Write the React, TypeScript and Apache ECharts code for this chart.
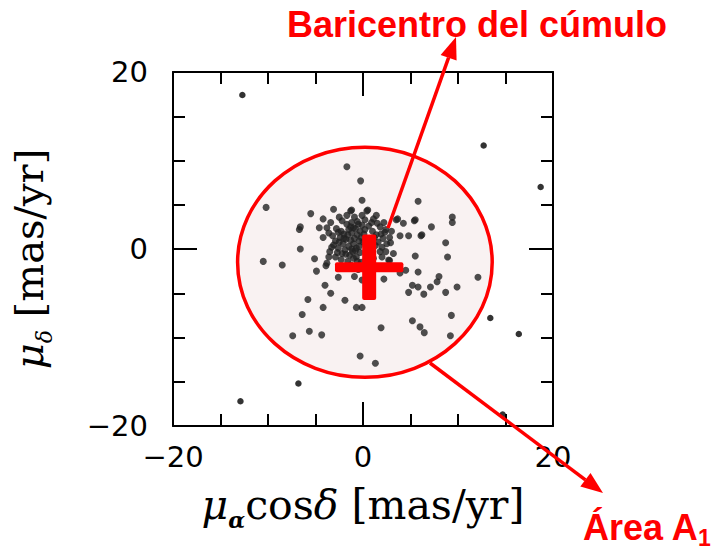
import React, { useEffect, useRef } from 'react';
import * as echarts from 'echarts';

// ---- Data ----
const axisMin = -20;
const axisMax = 20;
const axisInterval = 20;

// Cluster barycentre and the half-extent of its cross marker (mas/yr)
const centroid = [0.65, -2.05];
const centroidHalf = [3.6, 3.7];

// Area A1: centre and semi-axes (mas/yr)
const areaCenter = [0.2, -1.5];
const areaRadii = [13.4, 13.0];

// Stars outside area A1
const outerPoints = [
  [-12.7, 17.4], [12.7, 11.7], [18.7, 7.0], [13.4, -7.8], [16.4, -9.6],
  [-6.8, -15.2], [-12.9, -17.2], [14.7, -18.7],
];

// Stars inside area A1, outside the dense core
const haloPoints = [
  [-1.7, 9.3], [-0.25, 7.7], [-0.1, 5.5], [-10.2, 4.7], [5.8, 5.4], [-5.5, 4.0],
  [-3.1, 4.5], [-4.2, 3.4], [-6.7, 2.2], [-6.6, 2.5], [-4.6, 2.4], [-3.8, 2.4],
  [9.4, 3.6], [9.4, 3.0], [3.5, 3.3], [4.25, 2.9], [5.4, 3.2], [7.2, 2.5],
  [6.1, 1.5], [-4.2, 1.3], [-6.6, 0.0], [8.7, 0.7], [8.9, -0.9], [5.5, -0.8],
  [-10.5, -1.4], [-8.5, -1.8], [-5.1, -1.1], [-4.9, -2.5], [-3.9, -1.9], [-3.8, -1.6],
  [-2.6, -3.2], [-0.9, -3.1], [-0.1, -3.5], [0.55, -3.7], [2.2, -3.4], [3.9, -2.7],
  [4.5, -2.4], [5.8, -2.6], [8.0, -3.1], [7.8, -3.7], [12.1, -3.2], [-4.0, -4.1],
  [-3.4, -5.0], [5.2, -4.1], [5.8, -4.3], [7.1, -4.3], [4.8, -4.9], [6.4, -5.1],
  [8.7, -4.9], [9.9, -4.3], [-5.8, -5.7], [-1.9, -5.8], [-4.2, -6.6], [-0.7, -6.6],
  [-0.1, -6.6], [-6.4, -7.4], [9.3, -7.5], [5.2, -8.1], [1.9, -8.9], [6.0, -8.8],
  [6.45, -9.45], [-7.4, -9.8], [-5.65, -9.3], [-4.35, -9.7], [9.2, -9.8], [-0.3, -12.1],
  [1.3, -12.9], [2.8, -1.3], [6.2, 1.6], [3.0, 2.0], [3.9, 1.5], [4.8, 1.5],
  [1.1, 3.4], [0.5, 4.4], [-1.2, 4.4], [0.4, 4.3], [-1.3, 4.3], [3.65, 3.4], [5.5, 3.3],
];

// Dense core of the cluster
const corePoints = [
  [-2.8, 2.3], [-2.3, 2.0], [-2.0, 1.7], [-1.7, 2.8], [-1.5, 2.2], [-1.2, 1.8],
  [-1.0, 2.4], [-0.8, 2.3], [-0.6, 1.6], [-0.3, 2.0], [-0.1, 2.7], [0.2, 2.2],
  [0.6, 2.6], [1.0, 2.0], [1.4, 1.6], [1.8, 2.5], [2.1, 1.2], [2.5, 0.6],
  [2.0, 0.2], [1.6, 0.8], [1.2, 1.3], [-3.1, 0.45], [-2.6, 0.1], [-2.1, 0.6],
  [-1.5, 0.3], [-1.0, 0.6], [-0.7, 0.1], [-0.4, 0.9], [-0.9, 1.2], [-1.3, 1.0],
  [-1.8, 1.1], [-2.4, 1.3], [-2.9, 0.9], [-3.3, 0.2], [-3.5, -0.3], [-2.2, -0.5],
  [-1.4, -0.7], [-0.7, -0.9], [-1.9, -0.1], [-2.7, -0.4], [-1.1, -0.3], [-0.3, -0.4],
  [0.3, 0.5], [0.8, 0.1], [1.8, -0.3], [2.0, -0.9], [2.7, -1.25], [-1.0, -1.05],
  [1.1, -1.05], [-0.9, 3.6], [-0.1, 3.8], [-1.7, 3.8], [-0.6, 3.1], [0.2, 3.3],
  [-1.2, 3.0], [-2.2, 3.2], [0.9, 3.0], [1.5, 2.9], [2.4, 2.2], [2.8, 1.3],
  [-0.2, -1.5], [0.3, -1.2], [-1.6, -1.4], [-0.5, -2.3],
  [-3.6, 1.8], [-3.2, 1.5], [-2.6, 1.9], [-2.5, 0.8], [-2.0, 1.2], [-1.6, 1.6],
  [-1.3, 2.5], [-0.5, 2.8], [-0.2, 1.3], [0.1, 1.7], [-0.4, 0.3], [-1.2, 0.0],
  [-1.8, -0.6], [-2.9, -0.9], [-3.6, -0.9], [-2.3, -1.2], [-1.3, -1.8], [-0.6, -1.4],
  [1.9, 1.7], [2.3, 1.9], [2.9, 0.7], [2.4, -0.3], [3.2, -0.5], [2.2, 3.0],
  [1.4, 3.8], [-2.5, 3.6], [-3.4, 3.0], [0.0, 0.8], [-0.8, -0.2], [1.3, 0.4],
];

const minusFmt = (v: number) => (v < 0 ? '\u2212' + Math.abs(v) : String(v));

const makeAxis = (position: string, showLabel: boolean, isY: boolean) => ({
  type: 'value',
  position,
  min: axisMin,
  max: axisMax,
  interval: axisInterval,
  axisLine: { show: true, onZero: false, lineStyle: { color: '#000', width: 2 } },
  axisTick: { show: true, inside: true, length: 24, lineStyle: { color: '#000', width: 2 } },
  minorTick: { show: true, splitNumber: 4, length: 12, lineStyle: { color: '#000', width: 2 } },
  splitLine: { show: false },
  minorSplitLine: { show: false },
  axisLabel: {
    show: showLabel,
    formatter: minusFmt,
    color: '#000',
    fontFamily: 'DejaVu Sans',
    fontSize: 29,
    margin: isY ? 25 : 16,
  },
});

const serif = 'DejaVu Serif';

export default function App() {
  const ref = useRef<HTMLDivElement>(null);
  useEffect(() => {
    document.body.style.margin = '0';
    const chart = echarts.init(ref.current!, null, { renderer: 'svg' });

    const xBottom: any = makeAxis('bottom', true, false);
    xBottom.name = '{mu|\u03bc}{sub|\u03b1}{t|cos}{d|\u03b4}{t| [mas/yr]}';
    xBottom.nameLocation = 'middle';
    xBottom.nameGap = 53;
    xBottom.nameTextStyle = {
      color: '#000',
      fontFamily: serif,
      fontSize: 41,
      rich: {
        mu: { fontFamily: serif, fontStyle: 'italic', fontSize: 41, lineHeight: 52, color: '#000' },
        sub: { fontFamily: serif, fontStyle: 'italic', fontWeight: 'bold', fontSize: 22, lineHeight: 22, verticalAlign: 'bottom', color: '#000' },
        t: { fontFamily: serif, fontSize: 41, lineHeight: 52, color: '#000' },
        d: { fontFamily: serif, fontStyle: 'italic', fontSize: 41, lineHeight: 52, color: '#000' },
      },
    };
    const xTop: any = makeAxis('top', false, false);
    const yLeft: any = makeAxis('left', true, true);
    yLeft.name = '{mu|\u03bc}{sub|\u03b4}{t| [mas/yr]}';
    yLeft.nameLocation = 'middle';
    yLeft.nameGap = 118;
    yLeft.nameTextStyle = {
      color: '#000',
      fontFamily: serif,
      fontSize: 40,
      padding: [0, 20, 0, 0],
      rich: {
        mu: { fontFamily: serif, fontStyle: 'italic', fontSize: 40, lineHeight: 52, color: '#000' },
        sub: { fontFamily: serif, fontStyle: 'italic', fontSize: 22, lineHeight: 22, verticalAlign: 'bottom', color: '#000' },
        t: { fontFamily: serif, fontSize: 40, lineHeight: 52, color: '#000' },
      },
    };
    const yRight: any = makeAxis('right', false, true);

    const red = '#ff0000';

    chart.setOption({
      animation: false,
      backgroundColor: '#ffffff',
      grid: { left: 173, top: 72, width: 380, height: 354, containLabel: false },
      xAxis: [xBottom, xTop],
      yAxis: [yLeft, yRight],
      series: [
        {
          type: 'custom',
          xAxisIndex: 0,
          yAxisIndex: 0,
          z: 1,
          clip: false,
          data: [[areaCenter[0], areaCenter[1], areaRadii[0], areaRadii[1]]],
          renderItem: (params: any, api: any) => {
            const c = api.coord([api.value(0), api.value(1)]);
            const s = api.size([api.value(2), api.value(3)]);
            return {
              type: 'ellipse',
              shape: { cx: c[0], cy: c[1], rx: s[0], ry: s[1] },
              style: { fill: '#f9f2f2', stroke: red, lineWidth: 3.5 },
            };
          },
        },
        {
          type: 'scatter',
          xAxisIndex: 0,
          yAxisIndex: 0,
          z: 2,
          symbolSize: 7,
          itemStyle: { color: '#222222' },
          data: haloPoints.concat(corePoints),
        },
        {
          type: 'scatter',
          xAxisIndex: 0,
          yAxisIndex: 0,
          z: 2,
          symbolSize: 6.5,
          itemStyle: { color: '#000' },
          data: outerPoints,
        },
        {
          type: 'custom',
          xAxisIndex: 0,
          yAxisIndex: 0,
          z: 5,
          clip: false,
          data: [[centroid[0], centroid[1], centroidHalf[0], centroidHalf[1]]],
          renderItem: (params: any, api: any) => {
            const c = api.coord([api.value(0), api.value(1)]);
            const s = api.size([api.value(2), api.value(3)]);
            return {
              type: 'group',
              children: [
                { type: 'rect', shape: { x: c[0] - s[0], y: c[1] - 5, width: 2 * s[0], height: 10, r: 2 }, style: { fill: red } },
                { type: 'rect', shape: { x: c[0] - 7, y: c[1] - s[1], width: 14, height: 2 * s[1], r: 2 }, style: { fill: red } },
              ],
            };
          },
        },
      ],
      graphic: [
        { type: 'line', z: 100, shape: { x1: 388, y1: 228, x2: 448.6, y2: 57.7 }, style: { stroke: red, lineWidth: 3.5 } },
        { type: 'polygon', z: 100, shape: { points: [[456, 37], [440.6, 54.9], [456.6, 60.5]] }, style: { fill: red } },
        { type: 'line', z: 100, shape: { x1: 430, y1: 363, x2: 585.4, y2: 479.8 }, style: { stroke: red, lineWidth: 3.5 } },
        { type: 'polygon', z: 100, shape: { points: [[603, 493], [580.3, 486.6], [590.5, 473.0]] }, style: { fill: red } },
        {
          type: 'text', z: 100, x: 287, y: 24,
          style: { text: 'Baricentro del c\u00famulo', fill: red, font: 'bold 36px "Liberation Sans", Arial, sans-serif', textAlign: 'left', textVerticalAlign: 'middle' },
        },
        {
          type: 'text', z: 100, x: 583, y: 527,
          style: { text: '\u00c1rea A', fill: red, font: 'bold 36px "Liberation Sans", Arial, sans-serif', textAlign: 'left', textVerticalAlign: 'middle' },
        },
        {
          type: 'text', z: 100, x: 698, y: 538,
          style: { text: '1', fill: red, font: 'bold 23px "Liberation Sans", Arial, sans-serif', textAlign: 'left', textVerticalAlign: 'middle' },
        },
      ],
    });
    return () => chart.dispose();
  }, []);
  return <div ref={ref} style={{ width: 713, height: 551 }} />;
}
